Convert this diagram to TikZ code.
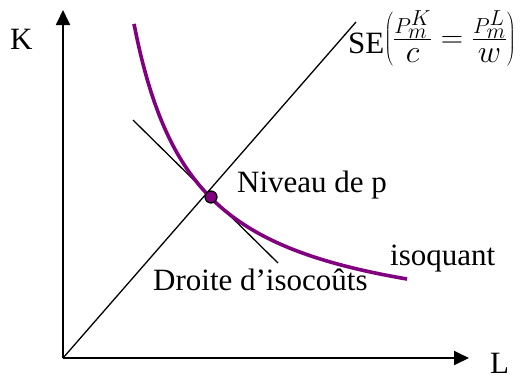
\RequirePackage{fix-cm}
\documentclass[tikz,border=0pt]{standalone}
\usepackage{fontspec}
\setmainfont{Liberation Serif}
\usetikzlibrary{arrows.meta}
\definecolor{isoq}{RGB}{128,0,128}
\newcommand\myden[1]{\mbox{\fontsize{32}{32}\selectfont\rule{0pt}{23pt}$#1$}}
\newcommand\myfrac[3]{\frac{P_{\scriptstyle #1}^{\scriptstyle #2}}{\myden{#3}}}
\begin{document}
\begin{tikzpicture}[x=1pt,y=-1pt,
  axis/.style={line width=1.8pt,-{Triangle[length=15pt,width=14pt]}},
  thin line/.style={line width=1.3pt},
  lbl/.style={inner sep=0pt,anchor=base west,font=\fontsize{31}{36}\selectfont},
  eqdot/.style={circle,draw=black,fill=isoq,line width=1.2pt,minimum size=12pt,inner sep=0pt}]
\useasboundingbox (0,0) rectangle (521,376);
\coordinate (O) at (63,358);
\coordinate (Ktop) at (63,10);
\coordinate (Lend) at (469,358);
\coordinate (SEend) at (356,22);
\coordinate (c1) at (133,120);
\coordinate (c2) at (278,263);
\draw[axis] (O) -- (Ktop);
\draw[axis] (O) -- (Lend);
\draw[thin line] (O) -- (SEend);
\draw[thin line] (c1) -- (c2);
\draw[isoq,line width=3.6pt,domain=134:407,samples=80,smooth]
  plot (\x,{336.1-100*(190.75/(\x-72.9))});
\node[eqdot] (eq) at (211,197) {};
\node[lbl] (K) at (10,49) {K};
\node[lbl] (L) at (490,373) {L};
\node[lbl] (niv) at (237,192) {Niveau de p};
\node[lbl] (isoq) at (390,265) {isoquant};
\node[lbl] (dro) at (153,290) {Droite d’isocoûts};
\node[lbl] (se) at (348,53) {SE\raisebox{6pt}{$\left(\myfrac{m}{K}{c}=\myfrac{m}{L}{w}\right)$}};
\end{tikzpicture}
\end{document}
